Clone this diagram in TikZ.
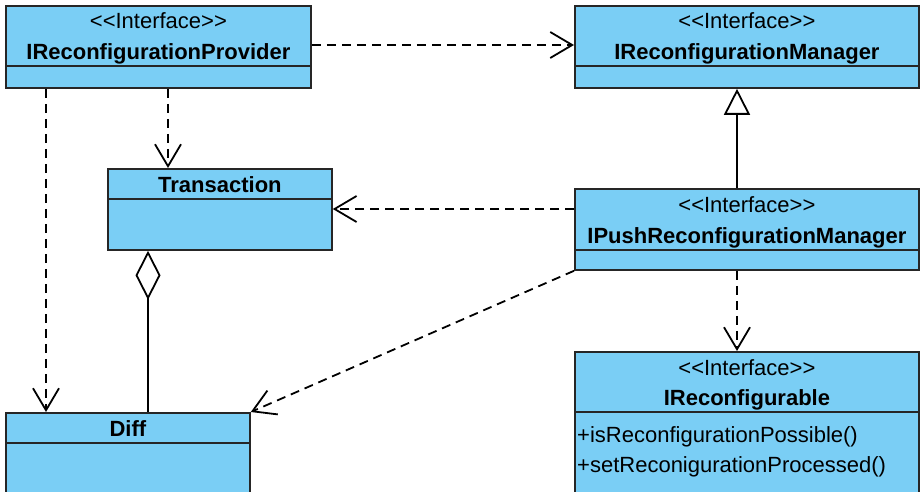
\documentclass[tikz,border=0pt]{standalone}
\usepackage{fontspec}
\setmainfont{Liberation Sans}
\usetikzlibrary{arrows.meta}

\definecolor{umlblue}{RGB}{122,206,245}

\tikzset{
  cls/.style={draw=black!85, fill=umlblue, line width=1.8pt, anchor=north west, inner sep=0pt},
  stereo/.style={font=\fontsize{22}{26}\selectfont, inner sep=0pt, anchor=base},
  clsname/.style={font=\fontsize{22}{26}\selectfont\bfseries, inner sep=0pt, anchor=base},
  op/.style={font=\fontsize{22}{26}\selectfont, inner sep=0pt, anchor=base west},
  dep/.style={line width=1.8pt, dash pattern=on 9pt off 6pt, -{Straight Barb[length=22pt,width=26pt]}},
  gen/.style={line width=1.8pt, -{Triangle[open,length=26pt,width=26pt,fill=white]}},
  agg/.style={line width=1.8pt, {Diamond[open,length=49pt,width=25pt,fill=white]}-}
}

\begin{document}
\begin{tikzpicture}[x=1pt, y=-1pt]
\clip (0,0) rectangle (920,492);

% 类框
\node[cls, minimum width=305pt, minimum height=82pt] (prov) at (5,5) {};
\node[cls, minimum width=344pt, minimum height=82pt] (mgr) at (574,5) {};
\node[cls, minimum width=224pt, minimum height=81pt] (trans) at (107,168) {};
\node[cls, minimum width=344pt, minimum height=81pt] (push) at (574,188) {};
\node[cls, minimum width=344pt, minimum height=200pt] (rcfg) at (574,351) {};
\node[cls, minimum width=244pt, minimum height=120pt] (diff) at (5,412) {};

% 分隔线
\foreach \n/\d in {prov/61, mgr/61, trans/31, push/62, rcfg/61, diff/31}
    \draw[line width=1.8pt, black!85] ([yshift=-\d pt]\n.north west) -- ([yshift=-\d pt]\n.north east);

% 文字
\foreach \n in {prov, mgr, push, rcfg}
    \node[stereo] (\n-st) at ([yshift=-24pt]\n.north) {<{}<Interface>{}>};
\node[clsname] (prov-nm) at ([yshift=-55pt]prov.north) {IReconfigurationProvider};
\node[clsname] (mgr-nm) at ([yshift=-55pt]mgr.north) {IReconfigurationManager};
\node[clsname] (push-nm) at ([yshift=-55pt]push.north) {IPushReconfigurationManager};
\node[clsname] (rcfg-nm) at ([yshift=-54pt]rcfg.north) {IReconfigurable};
\node[clsname] (trans-nm) at ([yshift=-24pt]trans.north) {Transaction};
\node[clsname] (diff-nm) at ([yshift=-24pt]diff.north) {Diff};
\node[op] (rcfg-op1) at ([xshift=3pt,yshift=-91pt]rcfg.north west) {+isReconfigurationPossible()};
\node[op] (rcfg-op2) at ([xshift=3pt,yshift=-121pt]rcfg.north west) {+setReconigurationProcessed()};

% 连接点
\coordinate (t1) at ([xshift=61pt]trans.north west);
\coordinate (d1) at ([xshift=41pt]diff.north west);
\coordinate (p1) at ([xshift=163pt]push.north west);
\coordinate (p2) at ([yshift=-21pt]push.north west);
\coordinate (t2) at ([xshift=41pt]trans.south west);

% 依赖关系
\draw[dep] ([yshift=-40pt]prov.north east) -- ([yshift=-40pt]mgr.north west);
\draw[dep] (prov.south -| t1) -- (t1);
\draw[dep] (prov.south -| d1) -- (d1);
\draw[dep] (p2) -- (trans.east |- p2);
\draw[dep] (push.south -| p1) -- (rcfg.north -| p1);
\draw[dep] (push.south west) -- (diff.north east);

% 继承与聚合
\draw[gen] (p1) -- (mgr.south -| p1);
\draw[agg] (t2) -- (diff.north -| t2);
\end{tikzpicture}
\end{document}
